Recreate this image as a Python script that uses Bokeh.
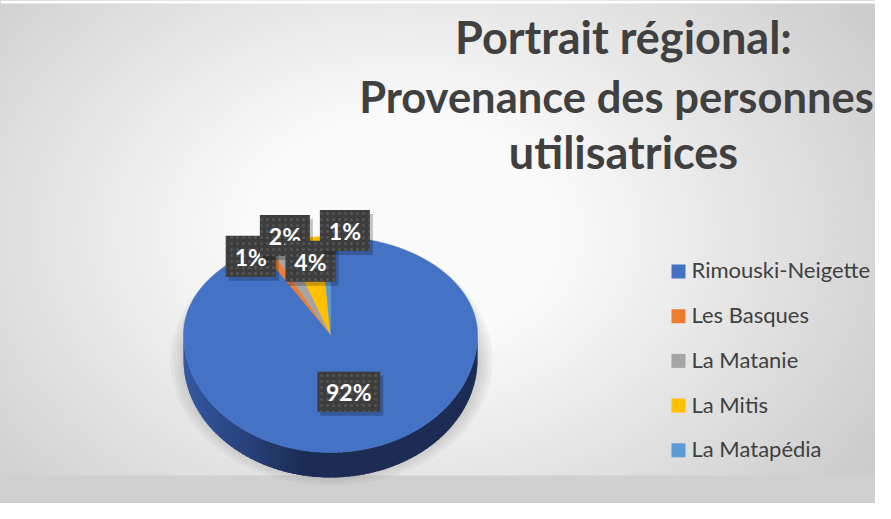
import numpy as np
from bokeh.plotting import figure
from bokeh.models import Range1d
from bokeh.core.properties import value
from bokeh.embed import file_html
from bokeh.resources import INLINE

# ---------------- data ----------------
categories = ["Rimouski-Neigette", "Les Basques", "La Matanie", "La Mitis", "La Matapédia"]
shares = [92, 1, 2, 4, 1]
pct_labels = ["92%", "1%", "2%", "4%", "1%"]
colors = ["#4472C4", "#ED7D31", "#A5A5A5", "#FFC000", "#5B9BD5"]
title_lines = ["Portrait régional:", "Provenance des personnes", "utilisatrices"]

# ---------------- layout ----------------
W, H = 875, 503
X0, Y0 = 8, 8
CX, CY = 338, 342          # pie tip (projected centre)
RX, RY_TOP, RY_BOT = 147, 98, 118
THICK = 25
label_radius = [0.5, 1.0, 1.0, 1.0, 1.0]
label_offsets = [(0, 0), (-13, 9), (8.5, -8), (7.5, 23), (19, -6)]
TEXT_COL = "#404040"
FONT = "Lato"
MID = 0.387   # baseline offset (em) for text_baseline="middle"
title_sizes = [45, 43.5, 45]
title_x = [631, 624, 631]
title_baselines = [62, 120, 177]
LEG_SIZE = 22


def lerp_col(c1, c2, t):
    a = np.array([int(c1[i:i + 2], 16) for i in (1, 3, 5)], float)
    b = np.array([int(c2[i:i + 2], 16) for i in (1, 3, 5)], float)
    c = a + (b - a) * t
    return "#%02x%02x%02x" % tuple(int(round(v)) for v in c)


def pt(theta_deg, f=1.0):
    th = np.radians(np.asarray(theta_deg, float))
    ry = np.where(np.cos(th) >= 0, RY_TOP, RY_BOT)
    return CX + f * RX * np.sin(th), CY - f * ry * np.cos(th)


p = figure(width=W, height=H, x_range=Range1d(X0, X0 + W), y_range=Range1d(Y0 + H, Y0),
           output_backend="svg", toolbar_location=None, min_border=0,
           x_axis_type=None, y_axis_type=None)
p.grid.visible = False
p.outline_line_color = None
p.background_fill_color = "#cccccc"
p.border_fill_color = "#cccccc"

# ---------- radial background gradient ----------
rs = np.arange(470, 110, -6)
gx, gy = 410, 240
cols = [lerp_col("#cccccc", "#fafafa", min(1.0, max(0.0, (450 - r) / 320.0))) for r in rs]
p.ellipse(x=[gx] * len(rs), y=[gy] * len(rs), width=list(2 * rs * 1.25), height=list(2 * rs * 0.92),
          fill_color=cols, line_color=None)
# bottom band and top white strip
p.quad(left=[X0], right=[X0 + W], top=[483], bottom=[Y0 + H], fill_color="#d0d0d0", line_color=None)
p.quad(left=[X0], right=[X0 + W], top=[Y0], bottom=[11], fill_color="#ffffff", line_color=None)

# ---------- pie shadow ----------
for k in range(6):
    p.ellipse(x=[CX + 1], y=[CY + 26], width=[322 - k * 7], height=[250 - k * 6],
              fill_color="#7a7a7a", fill_alpha=0.08, line_color=None)

# ---------- side wall ----------
side_x, side_y, side_c = [], [], []
step = 2.0
thetas = np.arange(90, 270, step)
for t0 in thetas:
    t1 = min(270.0, t0 + step + 1.5)
    arc = np.linspace(t0, t1, 5)
    ax, ay = pt(arc)
    xs = list(ax) + list(ax[::-1])
    ys = list(ay) + list(ay[::-1] + THICK)
    side_x.append(xs)
    side_y.append(ys)
    xm = float(np.mean(ax))
    tt = min(1.0, max(0.0, (xm - 195) / 115.0))
    side_c.append(lerp_col("#3357a0", "#1c2c54", tt))
p.patches(side_x, side_y, fill_color=side_c, line_color=None)

# ---------- top face slices ----------
total = float(sum(shares))
ends = np.cumsum(shares) / total * 360.0
starts = np.concatenate([[0.0], ends[:-1]])
sx, sy = [], []
for a0, a1 in zip(starts, ends):
    arc = np.linspace(a0, a1, max(4, int((a1 - a0) * 2)))
    ax, ay = pt(arc)
    sx.append([CX] + list(ax))
    sy.append([CY] + list(ay))
p.patches(sx, sy, fill_color=colors, line_color=colors, line_width=0.5)

# ---------- data labels ----------
mids = (starts + ends) / 2.0
for i in range(len(shares)):
    axx, ayy = pt(mids[i], label_radius[i])
    lx = float(axx) + label_offsets[i][0]
    ly = float(ayy) + label_offsets[i][1]
    bw = 63 if len(pct_labels[i]) > 2 else 50
    bh = 40 if len(pct_labels[i]) > 2 else 41
    p.rect(x=[lx + 3], y=[ly + 4], width=[bw], height=[bh], fill_color="#000000",
           fill_alpha=0.22, line_color=None)
    p.rect(x=[lx], y=[ly], width=[bw], height=[bh], fill_color="#3d3d3d", line_color=None,
           hatch_pattern="dot", hatch_color="#545454", hatch_scale=6, hatch_weight=1)
    p.text(x=[lx], y=[ly + 0.5], text=[pct_labels[i]], text_align="center", text_baseline="middle",
           text_font=value(FONT), text_font_style="bold", text_font_size="23px",
           text_color="#ffffff")

# ---------- title ----------
for line, xs_, b, sz in zip(title_lines, title_x, title_baselines, title_sizes):
    p.text(x=[xs_], y=[b - MID * sz], text=[line], text_align="center", text_baseline="middle",
           text_font=value(FONT), text_font_style="bold", text_font_size=f"{sz}px",
           text_color=TEXT_COL)

# ---------- legend ----------
n = len(categories)
base = 286 + np.arange(n) * 44.7
p.rect(x=[686] * n, y=list(base - 7), width=[14] * n, height=[14] * n,
       fill_color=colors, line_color=None)
p.text(x=[699] * n, y=list(base - MID * LEG_SIZE), text=categories, text_align="left",
       text_baseline="middle", text_font=value(FONT), text_font_size=f"{LEG_SIZE}px",
       text_color=TEXT_COL)

open("out.html", "w").write(file_html(p, INLINE))
